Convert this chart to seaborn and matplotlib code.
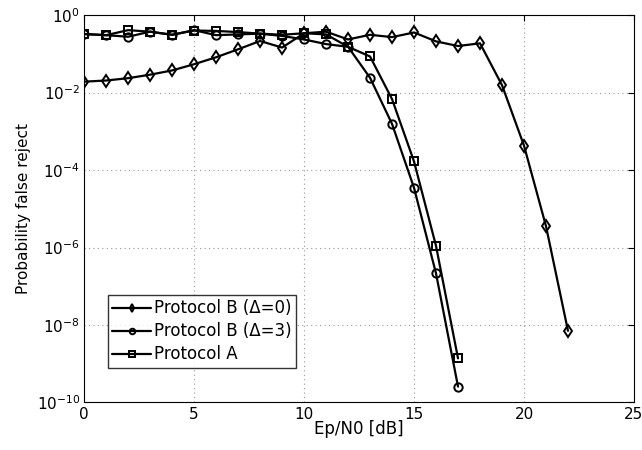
import numpy as np
import pandas as pd
import matplotlib
matplotlib.use("Agg")
import matplotlib.pyplot as plt
import seaborn as sns

# data (log10 of probability)
snr_b0 = list(range(0, 23))
log_b0 = [-1.72, -1.69, -1.63, -1.54, -1.43, -1.27, -1.09, -0.885, -0.67, -0.84,
          -0.47, -0.43, -0.63, -0.51, -0.57, -0.45, -0.68, -0.80, -0.73, -1.81,
          -3.37, -5.45, -8.15]
snr_b3 = list(range(0, 18))
log_b3 = [-0.49, -0.52, -0.56, -0.43, -0.51, -0.39, -0.52, -0.50, -0.48, -0.54,
          -0.63, -0.75, -0.82, -1.62, -2.81, -4.46, -6.67, -9.59]
snr_a = list(range(0, 18))
log_a = [-0.49, -0.52, -0.39, -0.43, -0.51, -0.40, -0.41, -0.44, -0.48, -0.51,
         -0.47, -0.50, -0.82, -1.07, -2.17, -3.78, -5.96, -8.86]

labels = ["Protocol B (\u0394=0)", "Protocol B (\u0394=3)", "Protocol A"]
markers = ["d", "o", "s"]

df = pd.concat([
    pd.DataFrame({"snr": snr_b0, "p": 10.0 ** np.array(log_b0), "proto": labels[0]}),
    pd.DataFrame({"snr": snr_b3, "p": 10.0 ** np.array(log_b3), "proto": labels[1]}),
    pd.DataFrame({"snr": snr_a, "p": 10.0 ** np.array(log_a), "proto": labels[2]}),
])

sns.set_style("white")
plt.rcParams["font.family"] = ["DejaVu Sans"]
plt.rcParams["text.color"] = "black"
plt.rcParams["axes.labelcolor"] = "black"
plt.rcParams["xtick.color"] = "black"
plt.rcParams["ytick.color"] = "black"
plt.rcParams["xtick.direction"] = "in"
plt.rcParams["ytick.direction"] = "in"

fig = plt.figure(figsize=(6.42, 4.5), dpi=100)
ax = fig.add_axes([0.131, 0.1056, 0.8565, 0.861])

for lab, mk in zip(labels, markers):
    sub = df[df["proto"] == lab]
    sns.lineplot(data=sub, x="snr", y="p", ax=ax, color="black", lw=1.6,
                 marker=mk, markersize=6, markerfacecolor="none",
                 markeredgecolor="black", markeredgewidth=1.4, label=lab)

ax.set_yscale("log")
ax.set_xlim(0, 25)
ax.set_ylim(1e-10, 1)
ax.set_xticks([0, 5, 10, 15, 20, 25])
ax.set_yticks([10.0 ** k for k in range(-10, 1, 2)])
ax.yaxis.set_minor_locator(matplotlib.ticker.NullLocator())
ax.grid(True, which="major", linestyle=(0, (1, 3)), color="#999999", lw=0.8)
ax.tick_params(labelsize=11, top=True, right=True, length=4, width=0.8, pad=3)
for s in ax.spines.values():
    s.set_color("black")
    s.set_linewidth(0.8)

ax.set_xlabel("Ep/N0 [dB]", fontsize=12, labelpad=-1)
ax.set_ylabel("Probability false reject", fontsize=11, labelpad=4)

leg = ax.legend(loc="lower left", bbox_to_anchor=(0.044, 0.09), fontsize=12,
                frameon=True, fancybox=False, edgecolor="black",
                handlelength=2.3, borderpad=0.25, labelspacing=0.3,
                handletextpad=0.2, borderaxespad=0)
leg.get_frame().set_linewidth(1.0)
for h in leg.legend_handles:
    h.set_markersize(4)

fig.savefig("out.png", dpi=100)
